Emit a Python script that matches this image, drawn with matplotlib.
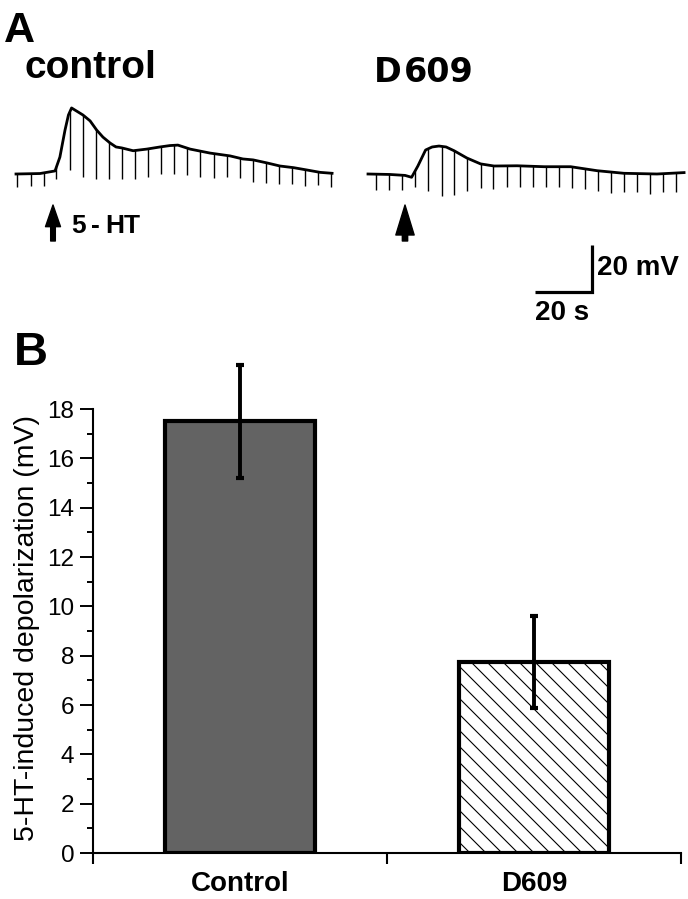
import numpy as np
import matplotlib
matplotlib.use('Agg')
import matplotlib.pyplot as plt
from matplotlib.ticker import MultipleLocator, FixedLocator
from matplotlib.collections import LineCollection
from matplotlib.transforms import IdentityTransform

W, H = 688, 899
plt.rcParams['font.family'] = ['Liberation Sans', 'DejaVu Sans']

# ---------------- Panel A data (time in s, potential change in mV) ----------------
ctrl_t = [0, 8.4, 13.7, 15.4, 17.2, 18.4, 19.5, 20.7, 23.5, 26.0, 28.3, 30.5, 33.0, 35.1,
          37.1, 41.1, 45.9, 50.5, 54.0, 56.8, 61.1, 68.1, 75.1, 79.6, 83.2, 88.1, 92.6,
          97.4, 102.1, 106.7, 110.9]
ctrl_v = [0, 0.2, 1.3, 7.2, 18.7, 25.1, 28.1, 27.2, 25.1, 22.6, 18.7, 15.7, 13.2, 11.5,
          11.1, 9.9, 10.6, 11.5, 12.1, 12.3, 10.6, 8.9, 7.7, 6.4, 6.0, 4.7, 3.4,
          2.7, 1.7, 0.7, 0.3]
ctrl_pulse_t = [0.5, 5.1, 9.7, 14.2, 18.8, 23.4, 28.0, 32.6, 37.2, 41.8, 46.4, 51.0, 55.6,
                60.1, 64.7, 69.3, 73.9, 78.5, 83.1, 87.7, 92.3, 96.9, 101.5, 106.0, 110.6]
ctrl_pulse_v = [-5.4, -5.1, -5.1, -2.1, 1.7, -1.1, -2.0, -2.0, -2.1, -2.1, -1.3, 0.0, 0.0,
                -0.4, -1.3, -1.7, -1.3, -1.7, -3.3, -3.7, -4.3, -4.3, -5.0, -4.7, -5.4]

d609_t = [0, 7.7, 13.0, 15.3, 17.5, 20.2, 22.5, 24.9, 27.4, 30.2, 34.7, 39.5, 44.2, 52.3,
          61.8, 71.1, 80.4, 89.8, 101.4, 110.9]
d609_v = [0, -0.2, -0.6, -1.4, 3.4, 10.2, 11.5, 11.9, 11.5, 9.9, 6.8, 4.3, 3.4, 3.5,
          3.1, 3.1, 1.4, 0.3, 0, 0.6]
d609_pulse_t = [2.9, 7.5, 12.1, 16.6, 21.2, 25.8, 30.3, 34.9, 39.5, 44.0, 48.6, 53.2, 57.8,
                62.3, 66.9, 71.5, 76.0, 80.6, 85.2, 89.7, 94.3, 98.9, 103.4, 108.0]
d609_pulse_v = [-6.8, -6.8, -6.8, -5.7, -7.4, -9.4, -8.9, -7.4, -6.1, -6.4, -5.4, -5.5, -5.4,
                -5.7, -5.7, -6.1, -6.5, -7.1, -8.0, -7.5, -7.5, -8.5, -7.5, -7.5]

scale_t = 20   # s
scale_v = 20   # mV

# ---------------- Panel B data ----------------
groups = ['Control', 'D609']
means = [17.5, 7.75]
errors = [2.3, 1.87]
ylabel = '5-HT-induced depolarization (mV)'

# ---------------- figure ----------------
fig = plt.figure(figsize=(W / 100, H / 100), dpi=100)
fig.patch.set_facecolor('white')

PX_S = 2.85   # pixels per second
PX_MV = 2.35  # pixels per mV


def px_axes(x0, y0, x1, y1):
    return fig.add_axes([x0 / W, 1 - y1 / H, (x1 - x0) / W, (y1 - y0) / H])


def trace_axes(x0, y0, x1, y1, t0x, v0y):
    ax = px_axes(x0, y0, x1, y1)
    ax.set_xlim((x0 - t0x) / PX_S, (x1 - t0x) / PX_S)
    ax.set_ylim((v0y - y1) / PX_MV, (v0y - y0) / PX_MV)
    ax.axis('off')
    return ax


def draw_trace(ax, t, v, pt, pv):
    ax.plot(t, v, color='black', lw=2.0, solid_joinstyle='round')
    top = np.interp(pt, t, v)
    ax.vlines(pt, pv, top, color='black', lw=1.0)


axc = trace_axes(0, 90, 344, 200, 16, 174)
draw_trace(axc, ctrl_t, ctrl_v, ctrl_pulse_t, ctrl_pulse_v)

axd = trace_axes(344, 90, 688, 330, 368, 174)
draw_trace(axd, d609_t, d609_v, d609_pulse_t, d609_pulse_v)

# scale bar
sb_t0 = (535 - 368) / PX_S
sb_v0 = (174 - 292) / PX_MV
axd.plot([sb_t0, sb_t0 + scale_t, sb_t0 + scale_t],
         [sb_v0, sb_v0, sb_v0 + scale_v], color='black', lw=2.3,
         solid_joinstyle='miter', solid_capstyle='butt')


def ftext(x, y, s, size, **kw):
    fig.text(x / W, 1 - y / H, s, fontsize=size, fontweight='bold',
             ha='left', va='baseline', **kw)


ftext(597, 275, '20 mV', 20)
ftext(535, 320, '20 s', 20)

# panel labels and titles
ftext(4, 42, 'A', 31)
ftext(14, 365, 'B', 34)
ftext(24, 78, 'control', 28)
ftext(374, 82, 'D', 24, family='DejaVu Sans')
ftext(404, 82, '609', 24, family='DejaVu Sans')
for ch, xx in zip(['5', '-', 'H', 'T'], [71, 91, 105, 124]):
    ftext(xx, 233, ch, 19)

# arrows
fig.add_artist(matplotlib.patches.FancyArrowPatch(
    (53, H - 241), (53, H - 205), transform=None,
    arrowstyle='simple,head_width=0.9,head_length=1.3,tail_width=0.28',
    mutation_scale=12, color='black', shrinkA=0, shrinkB=0))
fig.add_artist(matplotlib.patches.FancyArrowPatch(
    (405, H - 241), (405, H - 205), transform=None,
    arrowstyle='simple,head_width=1.1,head_length=1.8,tail_width=0.32',
    mutation_scale=12, color='black', shrinkA=0, shrinkB=0))

# ---------------- Panel B ----------------
axb = px_axes(93, 409, 681, 853)
xpos = [0.5, 1.5]
fills = axb.bar(xpos, means, width=0.51, color=['#636363', 'white'],
                linewidth=0, zorder=2)

# diagonal hatching for the D609 bar (fine spacing, clipped to the bar)
c0 = np.arange(500, 900, 16)
xs0, xs1 = 440, 640
segs = [[(xs0, c - xs0), (xs1, c - xs1)] for c in c0]
hatch = LineCollection(segs, colors='black', linewidths=0.8,
                       transform=IdentityTransform(), zorder=2.1)
axb.add_collection(hatch, autolim=False)
hatch.set_clip_path(fills[1])

axb.bar(xpos, means, width=0.51, facecolor='none', edgecolor='black',
        linewidth=3, zorder=2.2)

eb = axb.errorbar(xpos, means, yerr=errors, fmt='none', ecolor='black',
                  elinewidth=2.8, capsize=3, capthick=3, zorder=3)
for c in eb[1]:
    c.set_clip_on(False)
for c in eb[2]:
    c.set_clip_on(False)

axb.set_xlim(0, 2)
axb.set_ylim(0, 18)
for s in ['top', 'right']:
    axb.spines[s].set_visible(False)
for s in ['left', 'bottom']:
    axb.spines[s].set_linewidth(1.5)

axb.yaxis.set_major_locator(MultipleLocator(2))
axb.yaxis.set_minor_locator(MultipleLocator(1))
axb.tick_params(axis='y', which='major', direction='out', length=9.5, width=1.4,
                labelsize=17.5, pad=4)
axb.tick_params(axis='y', which='minor', direction='out', length=4.5, width=1.4)

axb.xaxis.set_major_locator(FixedLocator([0, 1, 2]))
axb.xaxis.set_minor_locator(FixedLocator(xpos))
axb.tick_params(axis='x', which='major', direction='out', length=8, width=1.5,
                labelbottom=False)
axb.tick_params(axis='x', which='minor', length=0, pad=13, labelsize=20)
axb.set_xticklabels(groups, minor=True, fontweight='bold')

fig.text(34.5 / W, 1 - 628 / H, ylabel, rotation=90, rotation_mode='anchor',
         ha='center', va='baseline', fontsize=20.5)

fig.savefig('out.png', dpi=100, facecolor='white')
